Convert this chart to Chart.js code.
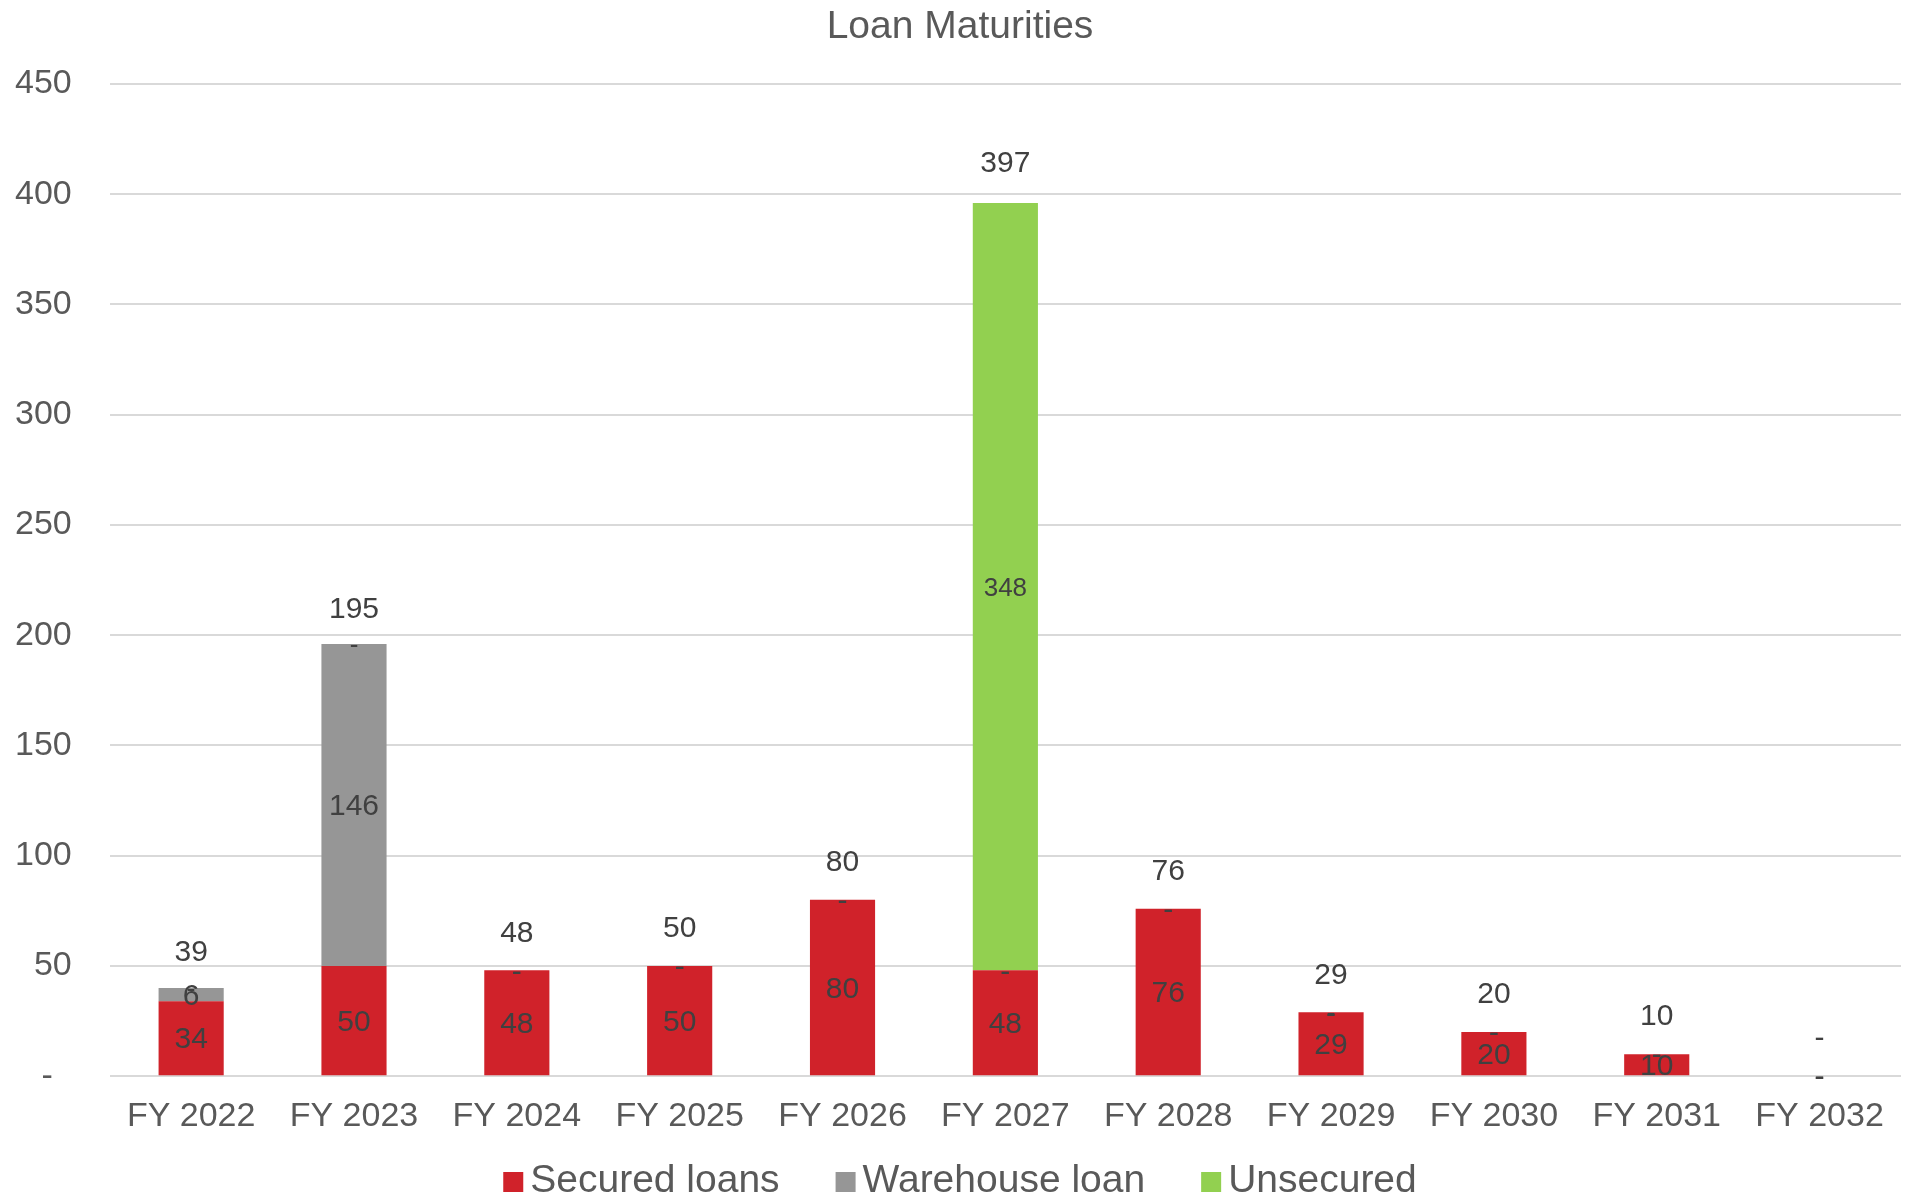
<!DOCTYPE html>
<html>
<head>
<meta charset="utf-8">
<title>Loan Maturities</title>
<script src="https://cdn.jsdelivr.net/npm/chart.js@4"></script>
<style>
  html, body { margin: 0; padding: 0; background: #fff; }
  #wrap { width: 1907px; height: 1198px; position: relative; }
</style>
</head>
<body>
<div id="wrap"><canvas id="loanChart" width="1907" height="1198"></canvas></div>
<script>
// categories and series (USD m)
const years = ['FY 2022', 'FY 2023', 'FY 2024', 'FY 2025', 'FY 2026', 'FY 2027', 'FY 2028', 'FY 2029', 'FY 2030', 'FY 2031', 'FY 2032'];
const securedLoans = [34, 50, 48, 50, 80, 48, 76, 29, 20, 10, 0];
const warehouseLoan = [6, 146, 0, 0, 0, 0, 0, 0, 0, 0, 0];
const unsecured = [0, 0, 0, 0, 0, 348, 0, 0, 0, 0, 0];
// totals as printed above each bar (rounded in the source)
const totals = [39, 195, 48, 50, 80, 397, 76, 29, 20, 10, 0];
const yTicks = [0, 50, 100, 150, 200, 250, 300, 350, 400, 450];
const chartTitle = 'Loan Maturities';

const FONT = 'Arial, "Liberation Sans", Helvetica, sans-serif';
const fmt = v => (Math.round(v) === 0 ? '-' : String(Math.round(v)));

// draw segment values and totals (excel style, '-' for zero)
const labelPlugin = {
    id: 'barLabels',
    afterDatasetsDraw(chart) {
        const ctx = chart.ctx;
        const yScale = chart.scales.y;
        ctx.save();
        ctx.textAlign = 'center';
        ctx.textBaseline = 'middle';
        chart.data.datasets.forEach((ds, di) => {
            const meta = chart.getDatasetMeta(di);
            meta.data.forEach((bar, i) => {
                const v = ds.data[i];
                const size = di === 2 ? 26 : 30;
                ctx.font = size + 'px ' + FONT;
                ctx.fillStyle = '#404040';
                ctx.fillText(fmt(v), bar.x, (bar.y + bar.base) / 2 + 2);
            });
        });
        // totals above the stacks
        const meta0 = chart.getDatasetMeta(0);
        ctx.font = '30px ' + FONT;
        ctx.fillStyle = '#404040';
        totals.forEach((t, i) => {
            const x = meta0.data[i].x;
            const y = yScale.getPixelForValue(t) - 37;
            ctx.fillText(fmt(t), x, y);
        });
        ctx.restore();
    },
    // title and legend drawn by hand so they sit where the original has them
    afterDraw(chart) {
        const ctx = chart.ctx;
        ctx.save();
        ctx.textBaseline = 'middle';

        ctx.font = '39px ' + FONT;
        ctx.textAlign = 'center';
        ctx.fillStyle = '#595959';
        ctx.fillText(chartTitle, 960, 27);

        const box = 20, gapText = 7, gapItem = 56;
        ctx.font = '39px ' + FONT;
        ctx.textAlign = 'left';
        const items = chart.data.datasets.map(ds => ({ text: ds.label, color: ds.backgroundColor, w: ctx.measureText(ds.label).width }));
        let total = 0;
        items.forEach((it, i) => { total += box + gapText + it.w + (i ? gapItem : 0); });
        let x = 960 - total / 2;
        const cy = 1181;
        items.forEach(it => {
            ctx.fillStyle = it.color;
            ctx.fillRect(x, cy - box / 2 + 1, box, box);
            ctx.fillStyle = '#595959';
            ctx.fillText(it.text, x + box + gapText, cy);
            x += box + gapText + it.w + gapItem;
        });
        ctx.restore();
    }
};

new Chart(document.getElementById('loanChart').getContext('2d'), {
    type: 'bar',
    data: {
        labels: years,
        datasets: [
            { label: 'Secured loans', data: securedLoans, backgroundColor: '#D0222A' },
            { label: 'Warehouse loan', data: warehouseLoan, backgroundColor: '#969696' },
            { label: 'Unsecured', data: unsecured, backgroundColor: '#92D050' }
        ]
    },
    options: {
        responsive: false,
        animation: false,
        devicePixelRatio: 1,
        layout: { padding: { left: -23, right: 6, top: 84, bottom: 49 } },
        datasets: { bar: { categoryPercentage: 1, barPercentage: 0.4 } },
        plugins: {
            title: { display: false },
            legend: { display: false },
            tooltip: { enabled: false }
        },
        scales: {
            x: {
                stacked: true,
                grid: { display: false },
                border: { display: false },
                ticks: {
                    color: '#595959',
                    font: { family: FONT, size: 34 },
                    padding: 12,
                    maxRotation: 0
                }
            },
            y: {
                stacked: true,
                min: 0,
                max: 450,
                afterBuildTicks: axis => { axis.ticks = yTicks.map(v => ({ value: v })); },
                grid: { color: '#D9D9D9', lineWidth: 2, drawTicks: false },
                border: { display: false },
                ticks: {
                    color: '#595959',
                    font: { family: FONT, size: 34 },
                    padding: 38,
                    callback: v => (v === 0 ? '-\u2007' : String(v))
                }
            }
        }
    },
    plugins: [labelPlugin]
});
</script>
</body>
</html>
